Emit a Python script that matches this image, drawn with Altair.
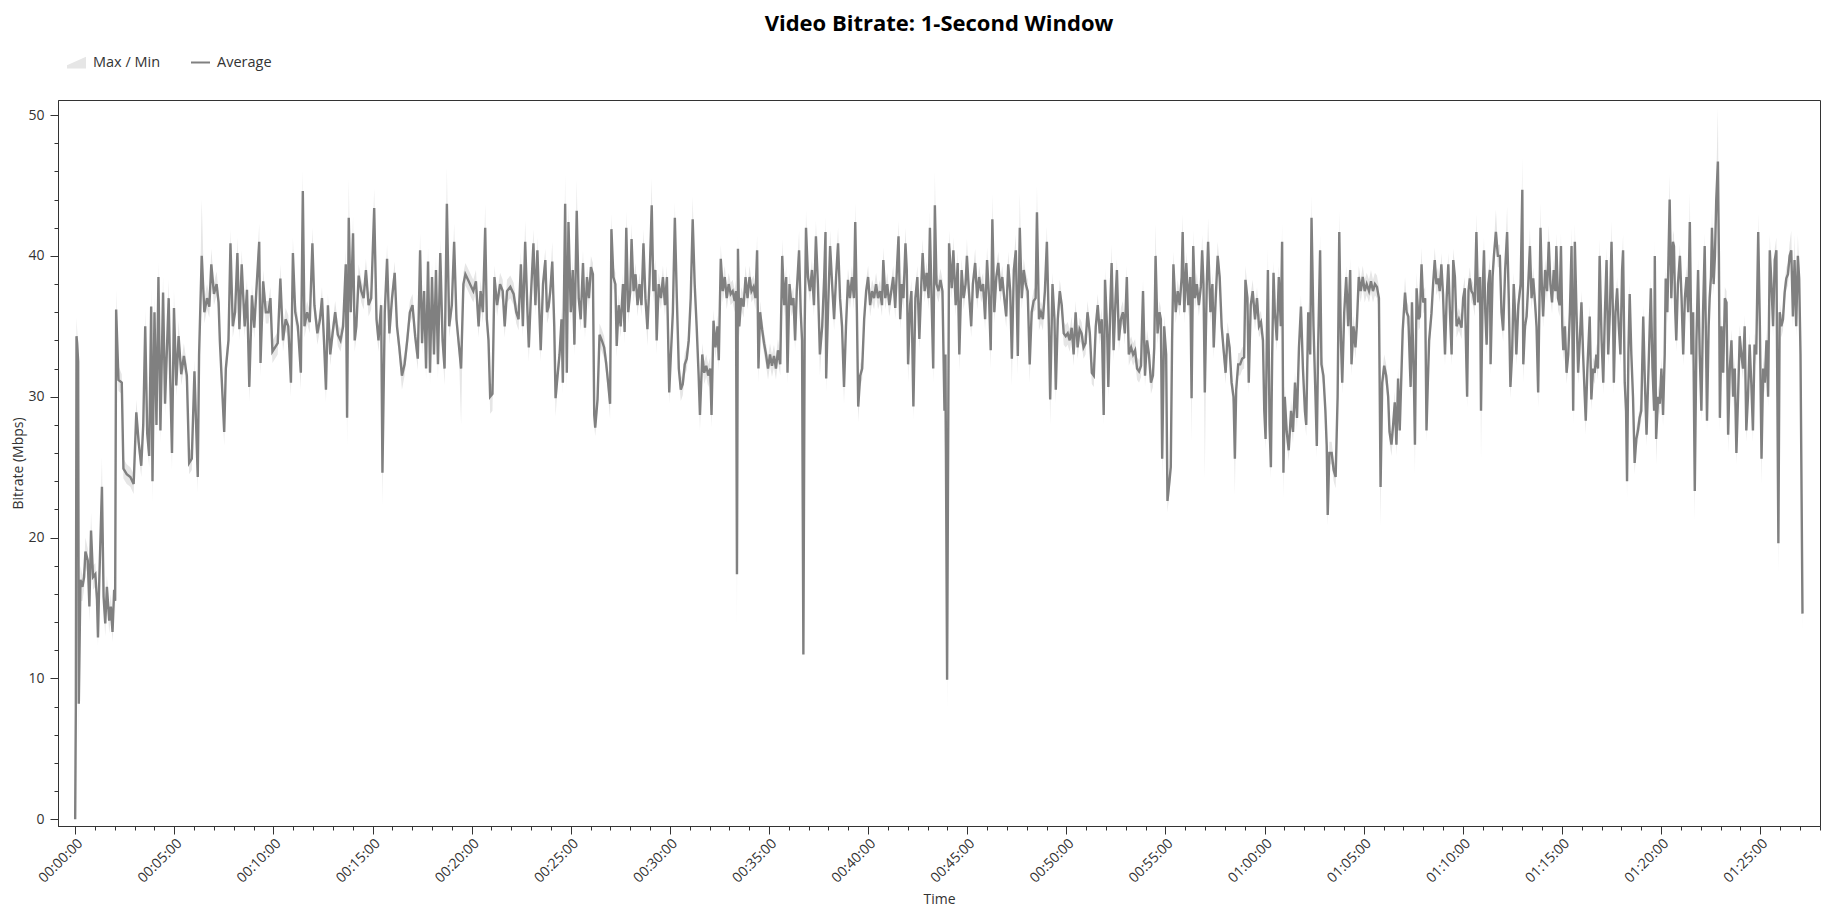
import altair as alt
import pandas as pd

# ---- data (time in seconds, bitrate in Mbps) ----
T0 = [0,2,4,6,9,11,14,16,22,27,31,38,43,48,54,61,66,69,73,81,86,91,96,103,108,113,118,121]
A0 = [0.0,8.0,34.3,33.8,32.5,8.2,13.5,17.0,16.5,17.2,19.0,18.4,15.1,20.5,17.2,17.4,15.6,12.9,17.0,23.6,15.8,13.9,16.5,14.1,15.1,13.3,16.3,15.5]
H0 = [1.0,12.0,35.6,34.8,33.5,12.0,15.0,18.0,17.3,18.0,20.0,19.2,16.0,21.8,18.0,18.2,16.4,14.0,17.8,25.7,16.8,14.8,17.3,15.0,16.0,14.2,17.0,16.3]
L0 = [0.0,4.5,33.0,32.8,25.0,5.0,12.5,15.5,15.5,16.3,18.0,17.4,14.0,19.5,16.3,16.5,14.6,12.3,16.0,22.5,15.0,13.0,15.6,13.2,14.2,12.6,15.5,14.6]

T1 = [124,131,141,146,156,167,177,185,192,200,
      206,212,218,224,230,234,240,246,252,258,
      266,272,283,288,293,299,306,313,321,329,
      338,345,353,361,371,375,383,391,399,406,
      412,420,428,434,438,444,451,456,464,470,
      477,484,491,497,504,513,520,527,535,542,
      550,557,561,569,577,585,591,597,605,613,
      621,629,637,645,653,659,666,674,683,689,
      694,702,710,718,724,733,741,747,753,759,
      765,772,779,787,795,803,811,819,823,828,
      834,841,846,851,858,866,873,880,888,896,
      905,912,918,926,930,937,944,951,959,967,
      974,981,989,997,1005,1013,1021,1029,1037,1044,
      1050,1056,1062,1068,1074,1080,1086,1092,1098,1105,
      1112,1118,1125,1132,1140,1147,1154,1162,1168,1175,
      1181,1189,1197,1205,1213,1221,1227,1234,1241,1246,
      1251,1256,1263,1269,1277,1286,1294,1300]
A1 = [36.2,31.2,31.0,24.9,24.5,24.3,23.8,28.9,26.8,25.1,
      28.0,35.0,27.4,25.8,36.4,24.0,36.0,28.0,38.5,27.6,
      37.4,29.5,37.0,31.0,26.0,36.3,30.8,34.3,31.6,32.9,
      31.5,25.3,25.6,31.8,24.3,33.0,40.0,36.0,37.0,36.4,
      39.4,37.3,38.0,36.7,33.9,31.0,27.5,32.0,34.0,40.9,
      35.0,36.0,40.2,34.8,39.4,35.0,37.6,30.7,37.2,34.9,
      38.2,41.0,32.4,38.2,36.0,36.0,37.0,33.2,33.5,33.8,
      38.4,34.0,35.5,35.0,31.0,40.2,36.0,35.0,31.7,44.6,
      35.0,36.0,35.3,40.9,36.5,34.5,35.5,37.0,34.0,30.5,
      36.5,33.0,34.5,36.0,34.4,34.0,35.0,39.4,28.5,42.7,
      36.0,41.6,34.0,35.0,38.6,37.5,37.0,39.0,36.5,37.0,
      43.4,35.5,34.0,36.5,24.6,36.0,39.8,34.5,37.0,38.8,
      35.0,33.5,31.5,32.3,34.0,36.0,36.5,34.3,32.7,40.4,
      33.8,37.5,32.0,39.6,31.7,38.5,33.0,39.0,32.3,40.2,
      34.0,32.0,43.7,35.0,36.5,41.0,35.5,33.5,32.0,38.0,
      38.7,38.3,37.9,37.5,38.2,35.0,37.5,36.0,42.0,35.5,
      34.0,30.0,30.2,38.5,36.5,38.0,37.5,35.0]
H1 = [37.6,32.2,31.6,25.6,25.2,25.0,24.5,29.8,27.6,25.8,
      28.8,36.2,28.2,26.6,37.8,25.0,37.2,28.8,39.6,28.4,
      38.5,30.3,38.3,31.8,26.8,37.6,31.6,35.4,32.4,33.8,
      32.3,26.1,26.4,32.6,25.1,33.8,44.0,37.0,38.0,37.2,
      40.5,38.1,38.9,37.5,34.7,31.8,28.3,32.8,34.8,41.9,
      35.8,36.8,41.3,35.6,40.4,35.8,38.4,31.5,38.0,35.7,
      39.0,42.3,33.2,39.0,36.8,36.8,37.8,34.0,34.3,34.6,
      39.4,34.8,36.3,35.8,31.8,41.3,36.8,35.8,32.5,46.1,
      35.8,36.8,36.1,42.0,37.3,35.3,36.3,37.8,34.8,31.3,
      37.3,33.8,35.3,36.8,35.2,34.8,35.8,40.5,29.3,45.5,
      36.8,42.8,34.8,35.8,39.4,38.3,37.8,39.8,37.3,37.8,
      44.8,36.3,34.8,37.3,25.4,36.8,40.8,35.3,37.8,39.6,
      35.8,34.3,32.3,33.1,34.8,36.8,37.3,35.1,33.5,41.6,
      34.6,38.3,32.8,40.6,32.5,39.5,33.8,40.0,33.1,41.2,
      34.8,32.8,46.3,35.8,37.3,42.3,36.3,34.3,32.8,38.8,
      39.5,39.1,38.7,38.3,39.0,35.8,38.3,36.8,43.7,36.3,
      34.8,30.8,31.0,39.3,37.3,38.8,38.3,35.8]
L1 = [35.2,30.4,30.2,24.2,23.8,23.6,23.1,28.0,26.0,24.3,
      27.2,34.0,26.6,25.0,35.5,22.5,35.0,27.2,37.5,26.7,
      36.5,28.6,36.2,30.2,24.8,35.4,30.0,33.5,30.8,32.0,
      30.7,24.5,24.8,31.0,23.2,32.2,39.2,35.2,36.2,35.6,
      38.6,36.5,37.2,35.9,33.1,30.2,26.5,31.2,33.2,40.0,
      34.2,35.2,39.4,34.0,38.6,34.2,36.8,29.6,36.4,34.1,
      37.4,40.2,31.4,37.4,35.2,35.2,36.2,32.4,32.7,33.0,
      37.6,33.2,34.7,34.2,30.0,39.4,35.2,34.2,30.5,43.6,
      34.2,35.2,34.5,40.0,35.7,33.7,34.7,36.2,33.2,29.6,
      35.7,32.2,33.7,35.2,33.6,33.2,34.2,38.6,26.5,41.8,
      35.2,40.8,33.2,34.2,37.8,36.7,36.2,38.2,35.7,36.2,
      42.5,34.7,33.2,35.7,22.3,35.2,39.0,33.7,36.2,38.0,
      34.2,32.7,30.5,31.5,33.2,35.2,35.7,33.5,31.9,39.6,
      33.0,36.7,31.2,38.8,30.9,37.7,32.2,38.2,31.3,39.4,
      33.2,30.8,42.8,34.2,35.7,40.2,34.7,32.7,28.0,37.2,
      37.9,37.5,37.1,36.7,37.4,34.2,36.7,35.2,41.2,34.7,
      33.2,28.8,29.0,37.7,35.7,37.2,36.7,34.2]

T2 = [1307,1317,1327,1335,1342,1349,1355,1362,1369,1373,
      1379,1387,1393,1399,1405,1409,1416,1423,1428,1433,
      1438,1444,1450,1454,1460,1466,1472,1476,1483,1488,
      1493,1500,1506,1511,1518,1524,1530,1537,1543,1549,
      1555,1561,1567,1571,1574,1581,1587,1594,1601,1607,
      1613,1619,1623,1629,1635,1639,1645,1651,1658,1663,
      1668,1674,1680,1684,1690,1696,1702,1708,1714,1720,
      1726,1732,1738,1745,1750,1756,1760,1766,1773,1779,
      1785,1791,1798,1803,1809,1815,1821,1827,1833,1839,
      1845,1851,1857,1863,1869,1875,1881,1887,1891,1898,
      1904,1910,1916,1922,1926,1932,1938,1944,1948,1954,
      1960,1966,1972,1978,1984,1990,1996,2000,2003,2006,
      2010,2016,2023,2029,2035,2041,2047,2053,2059,2064,
      2068,2073,2079,2085,2091,2097,2103,2109,2115,2121,
      2127,2134,2140,2146,2152,2156,2162,2168,2174,2179,
      2184,2191,2196,2200,2204,2208,2212,2218,2224,2230,
      2236,2242,2248,2254,2261,2267,2271,2273,2279,2285,
      2291,2297,2303,2309,2315,2321,2327,2333,2339,2345,
      2351,2357,2361,2366,2370,2376,2382,2388,2394,2400,
      2406,2412,2418,2424,2430,2436,2442,2446,2452,2458,
      2464,2470,2476,2482,2488,2492,2497,2502,2507,2513,
      2517,2521,2527,2531,2537,2543,2549,2555,2561,2565,
      2571,2577,2583,2587,2593,2597,2602,2607,2613,2619,
      2625,2631,2634,2639,2645]
A2 = [37.5,37.8,37.3,36.0,35.5,39.4,35.0,41.0,36.0,33.5,
      37.0,40.9,36.5,40.4,36.0,33.3,38.0,39.7,36.0,36.4,
      37.5,39.6,35.0,29.9,31.5,33.0,35.5,31.0,43.7,31.7,
      42.4,36.0,39.0,33.7,43.2,37.0,35.5,39.5,34.9,38.5,
      37.0,39.2,38.7,28.7,27.8,29.8,34.4,34.0,33.5,32.4,
      31.0,29.5,41.9,38.5,38.0,33.6,36.5,35.0,38.0,34.6,
      42.0,36.0,37.5,41.2,37.5,38.7,36.5,38.0,36.5,40.9,
      37.0,34.8,38.0,43.6,37.5,39.0,34.0,38.0,37.0,38.5,
      36.5,38.5,30.3,33.0,36.0,42.7,37.0,32.0,30.5,30.9,
      32.3,32.7,34.0,37.0,42.6,38.0,35.0,31.5,28.7,33.0,
      31.7,32.2,31.5,32.0,28.7,35.4,33.5,35.0,32.6,39.8,
      37.5,38.5,37.0,38.0,37.3,37.5,36.8,37.5,17.4,40.5,
      35.0,37.0,36.4,38.5,37.0,38.5,37.5,37.8,37.0,40.4,
      32.0,36.0,34.8,33.8,33.0,32.0,33.0,32.2,32.9,32.0,
      33.3,32.3,40.0,36.5,38.5,31.7,38.0,36.5,37.0,34.0,
      37.5,40.4,36.0,34.0,11.7,35.0,42.0,38.5,37.5,39.0,
      36.5,41.4,38.0,33.0,35.0,38.5,41.7,31.3,36.5,40.7,
      38.0,35.5,38.5,40.9,37.0,35.0,30.7,35.0,38.3,37.0,
      38.5,37.0,42.4,36.0,29.3,31.5,32.0,35.5,37.5,38.5,
      36.5,37.5,37.0,38.0,37.0,37.5,36.5,39.7,37.0,38.0,
      36.5,37.5,38.5,36.3,39.5,41.4,35.5,38.0,37.0,40.9,
      39.0,32.3,36.5,37.5,29.3,37.0,38.5,34.1,38.0,40.2,
      37.5,38.8,37.0,42.0,36.0,32.0,43.6,38.0,37.5,38.3,
      37.5,29.0,33.0,9.9,40.9]
H2 = [38.3,38.6,38.1,36.8,36.3,40.3,35.8,42.5,36.8,34.3,
      37.8,41.9,37.3,41.3,36.8,34.1,38.8,40.5,36.8,37.2,
      38.3,41.0,35.8,30.7,32.3,33.8,36.3,31.8,45.8,32.5,
      43.5,36.8,39.8,34.5,45.4,37.8,36.3,40.4,35.7,39.3,
      37.8,40.0,39.5,29.5,28.6,30.6,35.2,34.8,34.3,33.2,
      31.8,30.3,43.0,39.3,38.8,34.4,37.3,35.8,38.8,35.4,
      43.2,36.8,38.3,42.3,38.3,39.5,37.3,38.8,37.3,41.9,
      37.8,35.6,38.8,45.5,38.3,39.8,34.8,38.8,37.8,39.3,
      37.3,39.3,31.1,33.8,36.8,43.8,37.8,32.8,31.3,31.7,
      33.1,33.5,34.8,37.8,44.2,38.8,35.8,32.3,29.5,33.8,
      32.5,33.0,32.3,32.8,29.5,36.2,34.3,35.8,33.4,40.8,
      38.3,39.3,37.8,38.8,38.1,38.3,37.6,38.3,18.5,41.5,
      35.8,37.8,37.2,39.3,37.8,39.3,38.3,38.6,37.8,41.5,
      32.8,36.8,35.6,34.6,33.8,32.8,33.8,33.0,33.7,32.8,
      34.1,33.1,41.2,37.3,39.3,32.5,38.8,37.3,37.8,34.8,
      38.3,41.8,36.8,34.8,12.5,35.8,43.2,39.3,38.3,39.8,
      37.3,42.5,38.8,33.8,35.8,39.3,42.8,32.1,37.3,41.8,
      38.8,36.3,39.3,42.0,37.8,35.8,31.5,35.8,39.1,37.8,
      39.3,37.8,43.8,36.8,30.1,32.3,32.8,36.3,38.3,39.3,
      37.3,38.3,37.8,38.8,37.8,38.3,37.3,40.6,37.8,38.8,
      37.3,38.3,39.3,37.1,40.3,42.5,36.3,38.8,37.8,42.0,
      39.8,33.1,37.3,38.3,30.1,37.8,39.3,34.9,38.8,41.2,
      38.3,39.6,37.8,43.2,36.8,32.8,46.0,38.8,38.3,39.1,
      38.3,29.8,33.8,10.7,41.8]
L2 = [36.7,37.0,36.5,35.2,34.7,38.6,34.2,40.2,35.2,32.5,
      36.2,40.1,35.7,39.6,35.2,32.5,37.2,38.9,35.2,35.6,
      36.7,38.8,34.2,28.6,30.7,32.2,34.7,30.2,42.8,30.5,
      41.6,35.2,38.2,32.9,42.3,36.2,34.7,38.7,34.1,37.7,
      36.2,38.4,37.9,27.9,27.2,29.0,33.6,33.2,32.7,31.6,
      30.2,28.4,41.1,37.7,37.2,32.8,35.7,34.2,37.2,33.8,
      41.2,35.2,36.7,40.4,36.7,37.9,35.7,37.2,35.7,40.1,
      36.2,33.6,37.2,42.7,36.7,38.2,33.0,37.2,36.2,37.7,
      35.7,37.7,29.5,32.2,35.2,41.9,36.2,31.2,29.7,30.1,
      31.5,31.9,33.2,36.2,41.8,37.2,34.2,30.7,27.6,32.2,
      30.9,31.4,30.7,31.2,27.8,34.6,32.7,34.2,31.8,39.0,
      36.7,37.7,36.2,37.2,36.5,36.7,36.0,36.7,13.6,39.7,
      34.2,36.2,35.6,37.7,36.2,37.7,36.7,37.0,36.2,39.6,
      31.0,35.2,34.0,33.0,32.2,31.2,32.2,31.4,32.1,31.2,
      32.5,31.5,39.2,35.7,37.7,30.9,37.2,35.7,36.2,33.2,
      36.7,39.6,35.2,33.2,11.0,34.2,41.2,37.7,36.7,38.2,
      35.7,40.6,37.2,31.5,34.2,37.7,40.9,30.3,35.7,39.9,
      37.2,34.7,37.7,40.1,36.2,34.2,29.5,34.2,37.5,36.2,
      37.7,36.2,41.6,35.2,28.2,30.7,31.2,34.7,36.7,37.7,
      35.7,36.7,36.2,37.2,36.2,36.7,35.7,38.9,36.2,37.2,
      35.7,36.7,37.7,35.5,38.7,40.6,34.7,37.2,36.2,40.1,
      38.2,31.0,35.7,36.7,28.4,36.2,37.7,33.3,37.2,39.4,
      36.7,38.0,36.2,41.2,35.2,31.0,42.7,37.2,36.7,37.5,
      36.7,26.0,32.2,7.8,40.1]

T3 = [2653,2658,2665,2671,2676,2683,2689,2695,2699,2705,
      2712,2717,2724,2730,2736,2742,2748,2754,2760,2766,
      2771,2776,2782,2788,2794,2800,2806,2812,2818,2824,
      2830,2835,2841,2847,2853,2859,2865,2871,2877,2883,
      2889,2895,2901,2907,2911,2917,2923,2929,2935,2941,
      2947,2951,2958,2964,2968,2974,2980,2986,2992,2998,
      3004,3010,3016,3022,3028,3034,3040,3046,3052,3058,
      3064,3071,3077,3083,3089,3095,3101,3107,3113,3117,
      3123,3127,3133,3137,3143,3149,3153,3159,3165,3171,
      3177,3183,3189,3196,3202,3208,3214,3220,3226,3232,
      3238,3244,3250,3256,3262,3266,3270,3276,3282,3286,
      3290,3296,3302,3306,3312,3316,3320,3324,3331,3337,
      3343,3349,3352,3357,3363,3369,3375,3379,3384,3389,
      3395,3401,3407,3411,3415,3419,3425,3429,3436,3442,
      3446,3452,3458,3464,3470,3476,3482,3488,3494,3500,
      3506,3510,3514,3520,3526,3532,3538,3542,3548,3552,
      3558,3564,3571,3577,3583,3589,3595,3599,3603,3607,
      3610,3615,3619,3623,3627,3631,3637,3643,3649,3653,
      3657,3661,3667,3673,3680,3686,3692,3698,3704,3710,
      3716,3722,3726,3732,3738,3742,3748,3754,3758,3762,
      3768,3772,3778,3784,3788,3791,3796,3803,3809,3815,
      3821,3826,3831,3835,3841,3847,3853,3859,3863,3869,
      3875,3879,3885,3891,3897,3903,3909,3916,3922,3928,
      3934,3940,3946,3951,3956,3962,3968,3974,3978]
A3 = [37.7,40.4,36.5,39.5,33.0,39.0,37.0,38.0,40.0,37.5,
      35.0,38.0,39.5,37.0,38.5,37.5,38.0,35.5,39.7,37.0,
      33.3,42.6,36.0,38.5,39.5,37.5,38.5,37.0,35.7,39.4,
      37.5,32.7,39.0,40.4,32.9,42.0,37.0,39.0,38.0,37.5,
      32.3,36.0,36.8,37.0,43.1,35.5,36.0,35.5,37.5,41.0,
      35.0,29.8,38.0,35.5,30.5,35.5,37.5,36.5,34.5,34.3,
      34.5,34.0,34.9,33.0,36.0,33.5,34.8,34.5,33.5,33.8,
      36.0,34.5,31.7,31.5,35.0,36.5,34.5,35.5,28.7,38.3,
      35.0,30.7,36.5,39.5,33.3,37.0,39.0,34.0,35.5,36.0,
      34.5,38.5,33.0,33.5,33.0,33.3,32.0,31.8,32.2,37.5,
      31.5,34.0,33.0,31.0,31.5,33.5,40.0,34.5,36.0,35.5,
      25.6,35.0,33.0,22.6,24.0,25.0,34.0,39.4,36.0,37.5,
      36.5,38.5,41.7,36.0,39.5,36.5,38.5,29.9,40.7,37.0,
      38.0,36.5,37.8,40.4,38.0,30.3,38.0,41.0,36.0,38.0,
      33.5,37.0,40.0,38.5,35.0,33.3,31.7,34.5,33.5,31.0,
      30.0,25.6,30.5,32.3,32.3,32.7,32.8,38.3,37.0,31.0,
      36.5,37.5,35.5,37.0,35.0,35.3,34.0,29.0,27.0,34.5,
      39.0,28.0,25.0,33.0,38.8,36.0,34.0,38.5,35.0,41.0,
      24.6,30.0,27.5,26.2,29.0,27.5,31.0,28.5,33.5,36.4,
      32.0,29.0,28.0,36.0,33.0,42.7,35.0,30.0,26.5,33.5,
      40.4,32.3,31.5,29.0,26.5,21.6,26.0,26.0,24.8,24.3,
      30.0,41.7,34.0,31.0,36.0,38.5,35.0,39.0,32.3,35.0,
      33.5,35.0,38.5,37.5,38.5,37.5,38.0,37.5,38.2,37.5,
      38.0,37.8,37.0,23.6,31.0,32.2,31.5,30.0,27.5]
H3 = [38.5,41.3,37.3,40.3,33.8,39.8,37.8,38.8,41.2,38.3,
      35.8,38.8,40.5,37.8,39.3,38.3,38.8,36.3,40.6,37.8,
      34.1,44.4,36.8,39.3,40.3,38.3,39.3,37.8,36.5,40.3,
      38.3,33.5,39.8,41.5,33.7,44.5,37.8,39.8,38.8,38.3,
      33.1,36.8,37.6,37.8,45.0,36.3,36.8,36.3,38.3,42.1,
      35.8,30.6,38.8,36.3,31.3,36.3,38.3,37.3,35.3,35.1,
      35.3,34.8,35.7,33.8,36.8,34.3,35.6,35.3,34.3,34.6,
      36.8,35.3,32.5,32.3,35.8,37.3,35.3,36.3,29.5,39.1,
      35.8,31.5,37.3,40.8,34.1,37.8,39.8,34.8,36.3,36.8,
      35.3,39.3,33.8,34.3,33.8,34.1,32.8,32.6,33.0,38.3,
      32.3,34.8,33.8,31.8,32.3,34.3,42.3,35.3,36.8,36.3,
      26.4,35.8,33.8,23.4,24.8,25.8,34.8,40.3,36.8,38.3,
      37.3,39.3,43.0,36.8,40.3,37.3,39.3,30.7,41.8,37.8,
      38.8,37.3,38.6,41.5,38.8,31.1,38.8,42.7,36.8,38.8,
      34.3,37.8,41.0,39.3,35.8,34.1,32.5,35.3,34.3,31.8,
      30.8,26.4,31.3,33.1,33.1,33.5,33.6,39.3,37.8,31.8,
      37.3,38.3,36.3,37.8,35.8,36.1,34.8,29.8,27.8,35.3,
      40.5,28.8,25.8,33.8,39.6,36.8,34.8,39.3,35.8,42.3,
      25.4,30.8,28.3,27.0,29.8,28.3,31.8,29.3,34.3,37.2,
      32.8,29.8,28.8,36.8,33.8,44.3,35.8,30.8,27.3,34.3,
      41.5,33.1,32.3,29.8,27.3,22.4,26.8,26.8,25.6,25.1,
      30.8,43.2,34.8,31.8,36.8,39.3,35.8,39.8,33.1,35.8,
      34.3,35.8,39.3,38.3,39.3,38.3,38.8,38.3,39.0,38.3,
      38.8,38.6,37.8,24.4,31.8,33.0,32.3,30.8,28.3]
L3 = [36.9,39.6,35.7,38.7,31.8,38.2,36.2,37.2,39.2,36.7,
      34.2,37.2,38.7,36.2,37.7,36.7,37.2,34.7,38.9,36.2,
      32.0,41.8,35.2,37.7,38.7,36.7,37.7,36.2,34.9,38.6,
      36.7,30.8,38.2,39.6,31.5,41.2,36.2,38.2,37.2,36.7,
      31.0,35.2,36.0,36.2,42.2,34.7,35.2,34.7,36.7,40.2,
      34.2,28.0,37.2,34.7,29.5,34.7,36.7,35.7,33.7,33.5,
      33.7,33.2,34.1,32.2,35.2,32.7,34.0,33.7,32.7,33.0,
      35.2,33.7,30.9,30.7,34.2,35.7,33.7,34.7,28.0,37.5,
      34.2,29.9,35.7,38.7,32.5,36.2,38.2,33.2,34.7,35.2,
      33.7,37.7,32.2,32.7,32.2,32.5,31.2,31.0,31.4,36.7,
      30.7,33.2,32.2,30.2,30.7,32.7,39.2,33.7,35.2,34.7,
      24.0,34.2,32.2,21.8,23.2,24.2,33.2,38.6,35.2,36.7,
      35.7,37.7,40.9,35.2,38.7,35.7,37.7,26.8,39.9,36.2,
      37.2,35.7,37.0,39.6,37.2,24.2,37.2,40.2,35.2,37.2,
      32.7,36.2,39.2,37.7,34.2,32.5,30.9,33.7,32.7,30.2,
      29.2,23.0,29.7,31.5,31.5,31.9,32.0,37.5,36.2,30.2,
      35.7,36.7,34.7,36.2,34.2,34.5,33.2,28.2,26.2,33.7,
      38.2,27.2,24.2,32.2,38.0,35.2,33.2,37.7,34.2,40.2,
      22.8,29.2,26.7,25.4,28.2,26.7,30.2,27.7,32.7,35.6,
      31.2,28.2,27.2,35.2,32.2,41.9,34.2,29.2,25.7,32.7,
      39.6,31.5,30.7,28.2,25.7,20.8,25.2,25.2,24.0,23.5,
      29.2,40.9,33.2,30.2,35.2,37.7,34.2,38.2,31.5,34.2,
      32.7,34.2,37.7,36.7,37.7,36.7,37.2,36.7,37.4,36.7,
      37.2,37.0,36.2,20.8,30.2,31.4,30.7,29.2,26.7]

T4 = [3984,3989,3994,3999,4004,4009,4018,4025,4030,4035,
      4040,4042,4046,4052,4055,4060,4066,4070,4075,4080,
      4086,4090,4094,4098,4105,4110,4115,4120,4125,4130,
      4135,4140,4146,4151,4156,4161,4166,4171,4176,4181,
      4188,4196,4201,4206,4211,4213,4217,4221,4226,4231,
      4236,4241,4246,4252,4255,4260,4264,4268,4272,4277,
      4282,4284,4290,4294,4300,4306,4312,4317,4322,4328,
      4334,4339,4344,4349,4354,4358,4362,4368,4375,4380,
      4383,4388,4393,4398,4403,4408,4413,4419,4423,4428,
      4435,4439,4443,4449,4455,4460,4465,4470,4475,4480,
      4483,4488,4493,4497,4501,4504,4509,4514,4519,4524,
      4529,4534,4539,4544,4549,4554,4559,4564,4569,4572,
      4577,4584,4589,4594,4599,4604,4609,4614,4620,4625,
      4630,4635,4640,4645,4650,4655,4657,4662,4667,4672,
      4677,4682,4685,4690,4694,4697,4701,4705,4710,4715,
      4720,4725,4730,4735,4740,4746,4751,4756,4762,4769,
      4774,4779,4781,4785,4791,4796,4801,4806,4811,4814,
      4819,4826,4831,4836,4839,4843,4846,4851,4857,4862,
      4867,4872,4877,4882,4887,4892,4897,4902,4907,4912,
      4917,4922,4927,4932,4937,4939,4944,4947,4951,4954,
      4959,4963,4967,4972,4975,4978,4983,4988,4993,4998,
      5003,5008,5013,5018,5023,5028,5033,5038,5043,5048,
      5053,5058,5063,5068,5073,5078,5083,5088,5094,5099,
      5104,5109,5114,5119,5124,5129,5134,5139,5144,5149,
      5152,5155,5159,5164,5169,5174,5179,5184,5189,5194,
      5199,5204,5209,5214,5218,5222,5228]
A4 = [26.6,28.0,29.6,26.6,31.3,27.6,34.7,37.4,36.0,35.7,
      32.0,30.7,36.7,31.0,26.6,37.7,35.5,35.7,39.4,36.7,
      37.0,27.6,31.0,34.0,35.9,38.0,39.7,38.0,38.4,37.5,
      39.4,37.3,33.0,37.0,39.4,36.0,33.0,39.7,38.5,35.0,
      35.5,34.9,37.0,37.7,32.0,30.0,37.5,38.4,37.5,37.3,
      36.5,41.7,36.7,38.5,29.0,37.5,40.4,36.0,33.7,38.0,
      39.0,32.3,38.5,40.0,41.7,40.0,40.0,36.0,34.7,39.0,
      41.7,37.0,30.7,33.0,38.0,36.0,33.0,36.5,38.0,44.7,
      32.3,35.0,35.7,38.0,40.7,37.0,38.4,36.5,35.0,30.3,
      42.0,38.0,35.7,39.0,37.5,41.0,38.0,36.7,39.0,37.5,
      40.7,37.0,36.5,40.7,35.0,33.3,35.0,31.7,33.0,36.0,
      40.7,29.0,41.0,36.0,31.7,34.0,36.7,33.0,30.0,28.3,
      32.0,35.7,29.8,32.0,31.7,33.0,32.0,40.0,34.0,31.0,
      36.0,39.7,33.0,36.0,41.0,35.0,31.0,36.0,37.7,35.0,
      33.0,39.0,40.4,31.0,29.0,24.0,33.0,37.3,33.0,30.0,
      25.3,27.0,27.6,28.5,29.0,35.7,31.0,27.3,32.0,37.7,
      32.0,29.0,40.0,27.0,30.0,29.5,32.0,28.7,33.0,38.4,
      36.0,44.0,37.0,41.0,40.7,36.0,34.0,38.0,40.0,37.0,
      33.0,37.0,38.5,36.0,42.4,33.0,36.0,23.3,34.0,39.0,
      33.0,29.0,36.0,40.7,32.0,28.3,35.0,37.0,38.5,42.0,
      38.0,40.0,44.0,46.7,40.0,28.5,35.0,31.7,37.0,36.7,
      27.3,32.0,34.0,30.0,32.0,26.0,30.0,34.3,33.0,32.0,
      35.0,27.6,30.0,33.7,31.0,27.6,33.7,33.0,41.7,35.0,
      25.6,32.0,31.0,34.0,30.0,40.4,38.0,35.0,39.7,40.4,
      30.0,19.6,36.0,35.0,35.5,37.4,38.4,38.7,40.0,40.4,
      35.7,39.7,35.0,40.0,38.4,33.0,14.6]
H4 = [27.4,28.8,30.4,27.4,32.1,28.4,35.5,38.5,36.8,36.5,
      32.8,31.5,37.5,31.8,27.4,38.8,36.3,36.5,40.6,37.5,
      37.8,28.4,31.8,34.8,36.7,38.8,40.6,38.8,39.2,38.3,
      40.2,38.1,33.8,37.8,40.2,36.8,33.8,40.5,39.3,35.8,
      36.3,35.7,37.8,38.5,32.8,30.8,38.3,39.2,38.3,38.1,
      37.3,43.0,37.5,39.3,29.8,38.3,41.3,36.8,34.5,38.8,
      39.8,33.1,39.3,40.8,43.3,40.8,40.8,36.8,35.5,39.8,
      43.5,37.8,31.5,33.8,38.8,36.8,33.8,37.3,38.8,47.0,
      33.1,35.8,36.5,38.8,42.0,37.8,39.2,37.3,35.8,31.1,
      43.8,38.8,36.5,39.8,38.3,42.2,38.8,37.5,39.8,38.3,
      41.6,37.8,37.3,41.6,35.8,34.1,35.8,32.5,33.8,36.8,
      42.0,29.8,42.3,36.8,32.5,34.8,37.5,33.8,30.8,29.1,
      32.8,36.5,30.6,32.8,32.5,33.8,32.8,41.2,34.8,31.8,
      36.8,40.6,33.8,36.8,42.5,35.8,31.8,36.8,38.5,35.8,
      33.8,39.8,41.5,31.8,29.8,24.8,33.8,38.1,33.8,30.8,
      26.1,27.8,28.4,29.3,29.8,36.5,31.8,28.1,32.8,38.5,
      32.8,29.8,41.2,27.8,30.8,30.3,32.8,29.5,33.8,39.2,
      36.8,45.8,37.8,41.8,41.5,36.8,34.8,38.8,40.8,37.8,
      33.8,37.8,39.3,36.8,44.5,33.8,36.8,24.1,34.8,39.8,
      33.8,29.8,36.8,41.6,32.8,29.1,35.8,37.8,39.3,43.3,
      38.8,40.8,45.5,50.5,40.8,29.3,35.8,32.5,37.8,37.5,
      28.1,32.8,34.8,30.8,32.8,26.8,30.8,35.1,33.8,32.8,
      35.8,28.4,30.8,34.5,31.8,28.4,34.5,33.8,43.0,35.8,
      26.4,32.8,31.8,34.8,30.8,41.5,38.8,35.8,40.5,41.3,
      30.8,20.4,36.8,35.8,36.3,38.2,39.2,39.5,40.9,41.8,
      36.5,41.5,35.8,41.5,39.2,33.8,21.0]
L4 = [25.8,27.2,28.8,25.8,30.5,26.8,33.9,36.6,35.2,34.9,
      31.2,29.9,35.9,30.2,24.5,36.9,34.7,34.9,38.6,35.9,
      36.2,26.8,30.2,33.2,35.1,37.2,38.9,37.2,37.6,36.7,
      38.6,36.5,32.2,36.2,38.6,35.2,32.2,38.9,37.7,34.2,
      34.7,34.1,36.2,36.9,31.2,29.2,36.7,37.6,36.7,36.5,
      35.7,40.9,35.9,37.7,25.5,36.7,39.6,35.2,32.9,37.2,
      38.2,31.5,37.7,39.2,40.9,39.2,39.2,35.2,33.9,38.2,
      40.9,36.2,29.9,32.2,37.2,35.2,32.2,35.7,37.2,43.9,
      31.0,34.2,34.9,37.2,39.9,36.2,37.6,35.7,34.2,29.2,
      41.2,37.2,34.9,38.2,36.7,40.2,37.2,35.9,38.2,36.7,
      39.9,36.2,35.7,39.9,34.2,32.5,34.2,30.9,32.2,35.2,
      39.9,28.0,40.2,35.2,30.9,33.2,35.9,32.2,29.2,27.3,
      31.2,34.9,29.0,31.2,30.9,32.2,31.2,39.2,33.2,30.2,
      35.2,38.9,32.2,35.2,40.2,34.2,30.2,35.2,36.9,34.2,
      32.2,38.2,39.6,30.2,28.2,22.8,32.2,36.5,32.2,29.2,
      24.5,26.2,26.8,27.7,28.2,34.9,30.2,26.5,31.2,36.9,
      31.2,28.2,39.2,25.2,29.2,28.7,31.2,27.9,32.2,37.6,
      35.2,43.2,36.2,40.2,39.9,35.2,33.2,37.2,39.2,36.2,
      32.2,36.2,37.7,35.2,41.6,32.2,35.2,21.2,33.2,38.2,
      32.2,28.2,35.2,39.9,31.2,27.5,34.2,36.2,37.7,41.2,
      37.2,39.2,43.2,45.9,39.2,27.5,34.2,30.9,36.2,35.9,
      26.0,31.2,33.2,29.2,31.2,25.2,29.2,33.5,32.2,31.2,
      34.2,26.8,29.2,32.9,30.2,26.8,32.9,32.2,40.9,34.2,
      23.8,31.2,30.2,33.2,29.2,39.6,37.2,34.2,38.9,39.6,
      29.2,17.4,35.2,34.2,34.7,36.6,37.6,37.9,39.2,39.6,
      34.9,38.9,34.2,39.2,37.6,32.2,13.3]

BAND_LABEL = "Max / Min"
LINE_LABEL = "Average"

# ---- assemble table ----
rows = []
for T, A, H, L in [(T0, A0, H0, L0), (T1, A1, H1, L1), (T2, A2, H2, L2),
                   (T3, A3, H3, L3), (T4, A4, H4, L4)]:
    for t, a, h, l in zip(T, A, H, L):
        rows.append({"t": t, "avg": a, "hi": h, "lo": l,
                     "band": BAND_LABEL, "series": LINE_LABEL})
df = pd.DataFrame(rows)

FONT = "Open Sans"
TXT = "#333333"
LBL = 14

x_scale = alt.Scale(domain=[-52, 5281], nice=False, zero=False)
y_scale = alt.Scale(domain=[-0.48, 51.07], nice=False, zero=False)

x_axis = alt.Axis(
    title="Time",
    values=list(range(0, 5281, 60)),
    labelExpr="datum.value % 300 === 0 ? utcFormat(datum.value * 1000, '%H:%M:%S') : ''",
    labelAngle=-45,
    labelOverlap=False,
    labelBound=False,
    labelFlush=False,
    grid=False,
    tickSize={"condition": {"test": "datum.value % 300 === 0", "value": 8}, "value": 4},
    labelPadding=2,
    titlePadding=7,
)
y_axis = alt.Axis(
    title="Bitrate (Mbps)",
    values=list(range(0, 51, 2)),
    labelExpr="datum.value % 10 === 0 ? datum.label : ''",
    labelOverlap=False,
    labelBound=False,
    labelFlush=False,
    grid=False,
    tickSize={"condition": {"test": "datum.value % 10 === 0", "value": 8}, "value": 4},
    labelPadding=6,
    titlePadding=2,
)

band = alt.Chart(df).mark_area(opacity=1, interpolate="linear").encode(
    x=alt.X("t:Q", scale=x_scale, axis=x_axis),
    y=alt.Y("hi:Q", scale=y_scale, axis=y_axis),
    y2=alt.Y2("lo:Q"),
    fill=alt.Fill("band:N",
                  scale=alt.Scale(domain=[BAND_LABEL], range=["#e6e6e6"]),
                  legend=alt.Legend(title=None, orient="none", legendX=8, legendY=-48,
                                    symbolType="M-1,0.28L1,-0.6L1,0.63L-1,0.63Z",
                                    symbolSize=361, labelFontSize=14.5, labelFont=FONT,
                                    labelColor=TXT, labelOffset=6, padding=0)),
)

line = alt.Chart(df).mark_line(strokeWidth=2.4, interpolate="linear").encode(
    x=alt.X("t:Q", scale=x_scale, axis=x_axis),
    y=alt.Y("avg:Q", scale=y_scale, axis=y_axis),
    stroke=alt.Stroke("series:N",
                      scale=alt.Scale(domain=[LINE_LABEL], range=["#808080"]),
                      legend=alt.Legend(title=None, orient="none", legendX=132, legendY=-48,
                                        symbolType="stroke", symbolSize=361,
                                        symbolStrokeWidth=2,
                                        labelFontSize=14.5, labelFont=FONT,
                                        labelColor=TXT, labelOffset=6, padding=0)),
)

chart = alt.layer(band, line).properties(
    width=1762,
    height=726,
    title=alt.TitleParams("Video Bitrate: 1-Second Window", fontSize=22,
                          fontWeight="bold", font=FONT, color="#000000",
                          anchor="middle", offset=16),
    autosize=alt.AutoSizeParams(type="none"),
    padding={"left": 50, "top": 92, "right": 10, "bottom": 82},
).configure_view(
    stroke="#333333", strokeWidth=1
).configure_axis(
    labelFont=FONT, titleFont=FONT, labelFontSize=LBL, titleFontSize=14,
    labelColor=TXT, titleColor=TXT, titleFontWeight="normal",
    domainColor="#333333", tickColor="#333333", domainWidth=1, tickWidth=1,
)

chart.save("out.html", embed_options={"renderer": "svg", "actions": False})
